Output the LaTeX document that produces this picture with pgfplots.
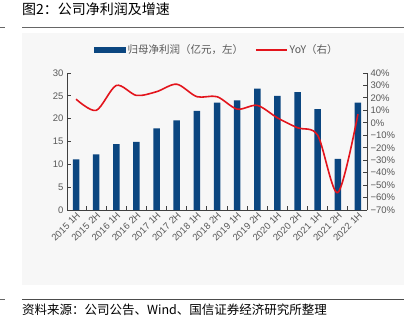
\documentclass[border=0pt]{standalone}
\usepackage{fontspec}
\setmainfont{Liberation Sans}
\newfontfamily\cjk{Noto Sans CJK SC}
\usepackage{pgfplots}
\pgfplotsset{compat=1.18}
\definecolor{barblue}{HTML}{0B4680}
\definecolor{yoyred}{HTML}{E3141C}
\definecolor{ticklab}{HTML}{595959}
\definecolor{axisgray}{HTML}{404040}
\begin{document}
\begin{tikzpicture}
\useasboundingbox (0pt,0pt) rectangle (414pt,-327pt);
\fill[black!3] (22pt,-33pt) rectangle (404pt,-285pt);
\node[anchor=base west, inner sep=0, font=\cjk\fontsize{14}{14}\selectfont] at (22pt,-14pt) {图2：公司净利润及增速};
\draw[black!60, line width=0.9pt] (22pt,-27pt) -- (404pt,-27pt);
\draw[black!60] (0pt,-27pt) -- (5pt,-27pt);
\draw[black!70, line width=0.9pt] (22pt,-299pt) -- (404pt,-299pt);
\draw[black!60] (0pt,-299pt) -- (5pt,-299pt);
\node[anchor=base west, inner sep=0, font=\cjk\fontsize{12.5}{12.5}\selectfont] at (22pt,-314pt) {资料来源：公司公告、Wind、国信证券经济研究所整理};

\begin{axis}[
  at={(67pt,-210pt)}, anchor=south west,
  scale only axis, width=300pt, height=137pt,
  xmin=-0.45, xmax=14.45, ymin=0, ymax=30,
  axis y line*=left, axis x line*=bottom,
  axis line style={axisgray, line width=0.9pt},
  ytick={0,5,...,30},
  xtick={0,...,14},
  xticklabels={2015 1H,2015 2H,2016 1H,2016 2H,2017 1H,2017 2H,2018 1H,2018 2H,2019 1H,2019 2H,2020 1H,2020 2H,2021 1H,2021 2H,2022 1H},
  minor xtick={0.5,1.5,...,13.5},
  major x tick style={draw=none},
  minor x tick style={axisgray, line width=0.9pt},
  y tick style={axisgray, line width=0.9pt},
  tick align=inside, major tick length=4pt, minor tick length=4pt,
  x tick label style={rotate=45, anchor=north east, font=\fontsize{9.5}{9.5}\selectfont, text=ticklab, inner sep=1pt},
  y tick label style={font=\fontsize{9.5}{9.5}\selectfont, text=ticklab},
  /pgf/number format/assume math mode=true,
  clip=false,
]
\addplot[ybar, bar width=6.5pt, fill=barblue, draw=none] coordinates {
(0,11.1) (1,12.2) (2,14.4) (3,14.9) (4,17.9) (5,19.6) (6,21.7) (7,23.5)
(8,24.0) (9,26.6) (10,25.0) (11,25.8) (12,22.1) (13,11.2) (14,23.5)};
\end{axis}

\begin{axis}[
  at={(67pt,-210pt)}, anchor=south west,
  scale only axis, width=300pt, height=137pt,
  xmin=-0.45, xmax=14.45, ymin=-70, ymax=40,
  axis y line*=right, axis x line=none,
  axis line style={axisgray, line width=0.9pt},
  ytick={-70,-60,...,40},
  yticklabels={−70\%,−60\%,−50\%,−40\%,−30\%,−20\%,−10\%,0\%,10\%,20\%,30\%,40\%},
  y tick style={axisgray, line width=0.9pt},
  tick align=inside, major tick length=4pt,
  y tick label style={font=\fontsize{9.5}{9.5}\selectfont, text=ticklab},
  clip=false,
  legend columns=2,
  legend style={at={(0.5,1.168)}, anchor=center, draw=none, fill=none,
    font=\cjk\fontsize{10.5}{10.5}\selectfont, text=ticklab,
    /tikz/every even column/.append style={column sep=10pt}},
]
\addlegendimage{legend image code/.code={\fill[barblue] (0pt,-2.5pt) rectangle (31pt,2.5pt);}}
\addlegendentry{归母净利润（亿元，左）}
\addlegendimage{legend image code/.code={\draw[yoyred, line width=1.5pt] (0pt,0pt) -- (31pt,0pt);}}
\addlegendentry{YoY（右）}
\addplot[yoyred, line width=1.6pt, smooth, no markers, forget plot] coordinates {
(0,19) (1,10) (2,30) (3,22) (4,25) (5,31) (6,21) (7,21)
(8,11) (9,14) (10,4) (11,-4) (12,-10) (13,-56) (14,7)};
\end{axis}
\end{tikzpicture}
\end{document}
